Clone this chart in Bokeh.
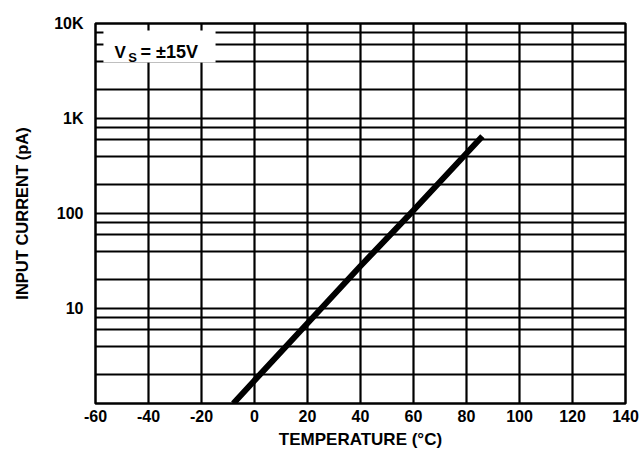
from bokeh.plotting import figure
from bokeh.models import FixedTicker, Range1d, Label, BoxAnnotation
from bokeh.embed import file_html
from bokeh.resources import INLINE

# data
temps = [-8, 0, 20, 40, 60, 86]
current_pa = [1.0, 1.75, 7.0, 28.0, 108.0, 650.0]

x_ticks = [-60, -40, -20, 0, 20, 40, 60, 80, 100, 120, 140]
x_tick_labels = ["-60", "-40", "-20", "0", "20", "40", "60", "80", "100", "120", "140"]
y_major = [10, 100, 1000, 10000]
y_major_labels = ["10", "100", "1K", "10K"]
y_multiples = [1, 2, 4, 6, 8]
y_decades = [1, 10, 100, 1000]
y_grid = [m * d for d in y_decades for m in y_multiples] + [10000]

FONT = "Liberation Sans"

p = figure(width=640, height=452, output_backend="svg", toolbar_location=None,
           y_axis_type="log", x_range=Range1d(-60, 140), y_range=Range1d(1, 10000),
           min_border_left=95, min_border_right=15, min_border_top=23, min_border_bottom=49)
p.background_fill_color = "white"
p.border_fill_color = "white"
p.outline_line_color = "black"
p.outline_line_width = 2.5
p.outline_line_alpha = 1.0

# grids
p.xgrid.ticker = FixedTicker(ticks=x_ticks)
p.ygrid.ticker = FixedTicker(ticks=y_grid)
for g in (p.xgrid, p.ygrid):
    g.grid_line_color = "black"
    g.grid_line_width = 2.2
    g.grid_line_alpha = 1.0

# axes
p.xaxis.ticker = FixedTicker(ticks=x_ticks)
p.xaxis.major_label_overrides = {t: l for t, l in zip(x_ticks, x_tick_labels)}
p.yaxis.ticker = FixedTicker(ticks=y_major)
p.yaxis.major_label_overrides = {t: l for t, l in zip(y_major, y_major_labels)}
for ax in (p.xaxis, p.yaxis):
    ax.axis_line_color = None
    ax.major_tick_line_color = None
    ax.minor_tick_line_color = None
    ax.major_tick_out = 0
    ax.major_tick_in = 0
    ax.minor_tick_out = 0
    ax.major_label_text_font = FONT
    ax.major_label_text_font_style = "bold"
    ax.major_label_text_font_size = "16px"
    ax.major_label_text_color = "black"
    ax.axis_label_text_font = FONT
    ax.axis_label_text_font_style = "bold"
    ax.axis_label_text_color = "black"
p.xaxis.major_label_standoff = 6
p.yaxis.major_label_standoff = 12
p.xaxis.axis_label = "TEMPERATURE (°C)"
p.xaxis.axis_label_text_font_size = "17px"
p.xaxis.axis_label_standoff = 5
p.yaxis.axis_label = "INPUT CURRENT (pA)"
p.yaxis.axis_label_text_font_size = "16.5px"
p.yaxis.axis_label_standoff = 20

# data line
p.line(temps, current_pa, line_color="black", line_width=6)

# condition box
box = BoxAnnotation(left=-57, right=-14.7, top=8440, bottom=3885,
                    fill_color="white", fill_alpha=1.0, line_color=None, level="annotation")
p.add_layout(box)
p.add_layout(Label(x=-52.8, y=4990, text="V", text_font=FONT, text_font_style="bold",
                   text_font_size="17px", text_baseline="alphabetic", text_color="black"))
p.add_layout(Label(x=-47.6, y=4420, text="S", text_font=FONT, text_font_style="bold",
                   text_font_size="13px", text_baseline="alphabetic", text_color="black"))
p.add_layout(Label(x=-43.0, y=4990, text="= ±15V", text_font=FONT, text_font_style="bold",
                   text_font_size="18px", text_baseline="alphabetic", text_color="black"))

open("out.html", "w").write(file_html(p, INLINE))
